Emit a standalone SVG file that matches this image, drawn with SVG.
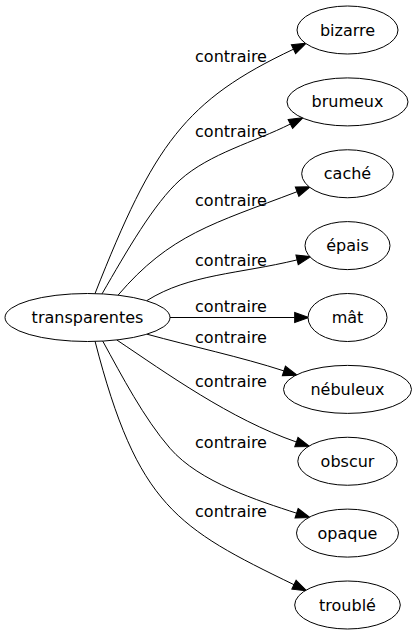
<svg xmlns="http://www.w3.org/2000/svg" width="416" height="635" viewBox="0 0 416 635">
<style>
.node ellipse{fill:#fff;stroke:#000;stroke-width:1}
text{font-family:"DejaVu Sans","Noto Sans",sans-serif;font-size:16px;fill:#000;text-anchor:middle}
.edge path{fill:none;stroke:#000;stroke-width:1}
</style>
<defs>
<marker id="arr" markerUnits="userSpaceOnUse" markerWidth="14" markerHeight="10" viewBox="0 0 13.3 9.4" refX="0" refY="4.7" orient="auto" overflow="visible">
<path d="M0,0 L13.3,4.7 L0,9.4 z" fill="#000" stroke="#000" stroke-width="1"/>
</marker>
</defs>
<rect width="416" height="635" fill="#fff"/>
<g id="edges" class="edge">
<path d="M95,293.6 C154,144 185,100.4 293.5,49.2" marker-end="url(#arr)"/>
<text x="231" y="62.3">contraire</text>
<path d="M102,293.9 C127,250.6 154,203.4 180,180 C209.8,153.3 254.7,142 290.4,124" marker-end="url(#arr)"/>
<text x="231" y="136.7">contraire</text>
<path d="M118,295.2 C170,234.4 213,223.7 297.1,191.7" marker-end="url(#arr)"/>
<text x="231" y="205.7">contraire</text>
<path d="M147,300.5 C189.5,274 238.8,274 297.1,259.9" marker-end="url(#arr)"/>
<text x="231" y="266">contraire</text>
<path d="M170,317.5 L294.7,317.5" marker-end="url(#arr)"/>
<text x="231" y="312">contraire</text>
<path d="M147,334.2 C190.4,346.1 241.2,357 283.9,370.9" marker-end="url(#arr)"/>
<text x="231" y="343">contraire</text>
<path d="M116.7,339.9 C166.5,373.3 230.2,419.1 296.4,442" marker-end="url(#arr)"/>
<text x="231" y="386.5">contraire</text>
<path d="M102.7,341 C121.9,376 143.8,418.1 170,448.3 C199.5,482.3 258.6,500.8 296.6,513.2" marker-end="url(#arr)"/>
<text x="231" y="447.7">contraire</text>
<path d="M95,341.1 C137.5,505.9 177,528 294,584.7" marker-end="url(#arr)"/>
<text x="231" y="516.7">contraire</text>
</g>
<g id="transparentes" class="node"><ellipse cx="87.5" cy="317.5" rx="82.5" ry="24"/><text x="87.5" y="323">transparentes</text></g>
<g id="bizarre" class="node"><ellipse cx="347.5" cy="30" rx="50.5" ry="24"/><text x="347.5" y="35.5">bizarre</text></g>
<g id="brumeux" class="node"><ellipse cx="347.5" cy="101.9" rx="60.5" ry="24"/><text x="347.5" y="107.4">brumeux</text></g>
<g id="cache" class="node"><ellipse cx="347.5" cy="173.75" rx="45.8" ry="24"/><text x="347.5" y="179.25">caché</text></g>
<g id="epais" class="node"><ellipse cx="347.5" cy="245.6" rx="42.5" ry="24"/><text x="347.5" y="251.1">épais</text></g>
<g id="mat" class="node"><ellipse cx="347.5" cy="317.5" rx="39.5" ry="24"/><text x="347.5" y="323">mât</text></g>
<g id="nebuleux" class="node"><ellipse cx="347.5" cy="389.4" rx="64" ry="24"/><text x="347.5" y="394.9">nébuleux</text></g>
<g id="obscur" class="node"><ellipse cx="347.5" cy="461.25" rx="49.7" ry="24"/><text x="347.5" y="466.75">obscur</text></g>
<g id="opaque" class="node"><ellipse cx="347.5" cy="533.1" rx="51" ry="24"/><text x="347.5" y="538.6">opaque</text></g>
<g id="trouble" class="node"><ellipse cx="347.5" cy="605" rx="52.8" ry="24"/><text x="347.5" y="610.5">troublé</text></g>
</svg>
